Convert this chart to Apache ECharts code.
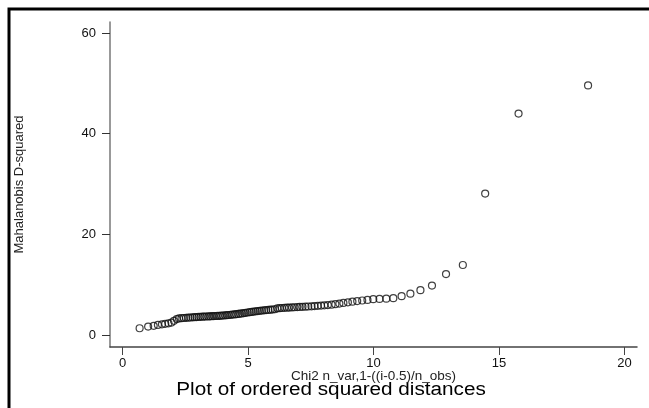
<!DOCTYPE html>
<html>
<head>
<meta charset="utf-8">
<title>Plot of ordered squared distances</title>
<script src="https://cdn.jsdelivr.net/npm/echarts@6/dist/echarts.min.js"></script>
<style>
  html, body { margin: 0; padding: 0; background: #fff; }
  #chart-container { width: 649px; height: 408px; }
</style>
</head>
<body>
<div id="chart-container"></div>
<script>
// chi2 quantiles (x) and ordered Mahalanobis distances (y)
const chiQuantiles = [
  0.68, 1.02, 1.24, 1.41, 1.57, 1.70, 1.83, 1.95, 2.05, 2.16,
  2.25, 2.35, 2.44, 2.53, 2.62, 2.70, 2.79, 2.87, 2.95, 3.03,
  3.11, 3.19, 3.26, 3.34, 3.42, 3.49, 3.57, 3.64, 3.72, 3.79,
  3.87, 3.94, 4.01, 4.09, 4.16, 4.23, 4.31, 4.38, 4.46, 4.53,
  4.61, 4.68, 4.76, 4.84, 4.91, 4.99, 5.07, 5.15, 5.23, 5.31,
  5.39, 5.47, 5.55, 5.64, 5.72, 5.81, 5.90, 5.98, 6.07, 6.17,
  6.26, 6.35, 6.45, 6.55, 6.64, 6.75, 6.85, 6.96, 7.06, 7.17,
  7.29, 7.40, 7.53, 7.65, 7.78, 7.91, 8.04, 8.18, 8.33, 8.48,
  8.64, 8.80, 8.98, 9.16, 9.35, 9.55, 9.76, 9.99, 10.24, 10.51,
  10.79, 11.12, 11.47, 11.87, 12.33, 12.89, 13.56, 14.45, 15.78, 18.55
];
const distances = [
  1.33, 1.65, 1.80, 1.98, 2.10, 2.20, 2.30, 2.45, 2.80, 3.15,
  3.28, 3.32, 3.36, 3.40, 3.43, 3.46, 3.49, 3.52, 3.55, 3.57,
  3.60, 3.62, 3.64, 3.66, 3.68, 3.70, 3.72, 3.74, 3.76, 3.78,
  3.80, 3.83, 3.86, 3.89, 3.92, 3.96, 4.00, 4.04, 4.08, 4.13,
  4.18, 4.23, 4.28, 4.34, 4.40, 4.46, 4.52, 4.58, 4.64, 4.70,
  4.75, 4.80, 4.85, 4.89, 4.93, 4.97, 5.01, 5.05, 5.10, 5.28,
  5.32, 5.35, 5.38, 5.41, 5.44, 5.47, 5.50, 5.53, 5.56, 5.59,
  5.62, 5.65, 5.69, 5.73, 5.78, 5.83, 5.88, 5.94, 6.02, 6.12,
  6.24, 6.36, 6.48, 6.60, 6.72, 6.84, 6.96, 7.10, 7.15, 7.20,
  7.30, 7.70, 8.20, 8.90, 9.80, 12.10, 13.90, 28.10, 44.00, 49.60
];
const xTicks = [0, 5, 10, 15, 20];
const yTicks = [0, 20, 40, 60];

const FONT = '"Liberation Sans", Arial, sans-serif';
const container = document.getElementById('chart-container');
const chart = echarts.init(container, null, { renderer: 'canvas' });

const option = {
  backgroundColor: '#fff',
  animation: false,
  grid: { left: 110, right: 12, top: 22, bottom: 61, containLabel: false },
  xAxis: {
    type: 'value',
    min: -0.5,
    max: 20.5,
    name: 'Chi2 n_var,1-((i-0.5)/n_obs)',
    nameLocation: 'middle',
    nameGap: 22,
    nameMoveOverlap: false,
    nameTextStyle: { fontFamily: FONT, fontSize: 13.5, color: '#222' },
    axisLine: { onZero: false, lineStyle: { color: '#444', width: 1.5 } },
    axisTick: { customValues: xTicks, length: 8, lineStyle: { color: '#444', width: 1 } },
    axisLabel: { customValues: xTicks, margin: 10, fontFamily: FONT, fontSize: 13, color: '#111' },
    splitLine: { show: false }
  },
  yAxis: {
    type: 'value',
    min: -2.4,
    max: 62.2,
    name: 'Mahalanobis D-squared',
    nameLocation: 'middle',
    nameGap: 84,
    nameMoveOverlap: false,
    nameTextStyle: { fontFamily: FONT, fontSize: 13, color: '#222' },
    axisLine: { onZero: false, lineStyle: { color: '#777', width: 1.5 } },
    axisTick: { customValues: yTicks, length: 8, lineStyle: { color: '#333', width: 1 } },
    axisLabel: { customValues: yTicks, margin: 14, fontFamily: FONT, fontSize: 13, color: '#111' },
    splitLine: { show: false }
  },
  series: [{
    type: 'scatter',
    data: chiQuantiles.map((x, i) => [x, distances[i]]),
    symbol: 'circle',
    symbolSize: 7,
    itemStyle: { color: 'rgba(0,0,0,0)', borderColor: '#111', borderWidth: 1.2 },
    emphasis: { disabled: true }
  }],
  graphic: [
    {
      type: 'rect',
      silent: true,
      shape: { x: 9, y: 9, width: 700, height: 500 },
      style: { fill: 'none', stroke: '#000', lineWidth: 3 }
    },
    {
      // title text, stretched a little wider like the original
      type: 'text',
      silent: true,
      x: 331,
      y: 390,
      scaleX: 1.15,
      style: {
        text: 'Plot of ordered squared distances',
        fontFamily: FONT,
        fontSize: 18,
        fill: '#000',
        textAlign: 'center',
        textVerticalAlign: 'middle'
      }
    }
  ]
};

chart.setOption(option);
window.addEventListener('resize', () => chart.resize());
</script>
</body>
</html>
